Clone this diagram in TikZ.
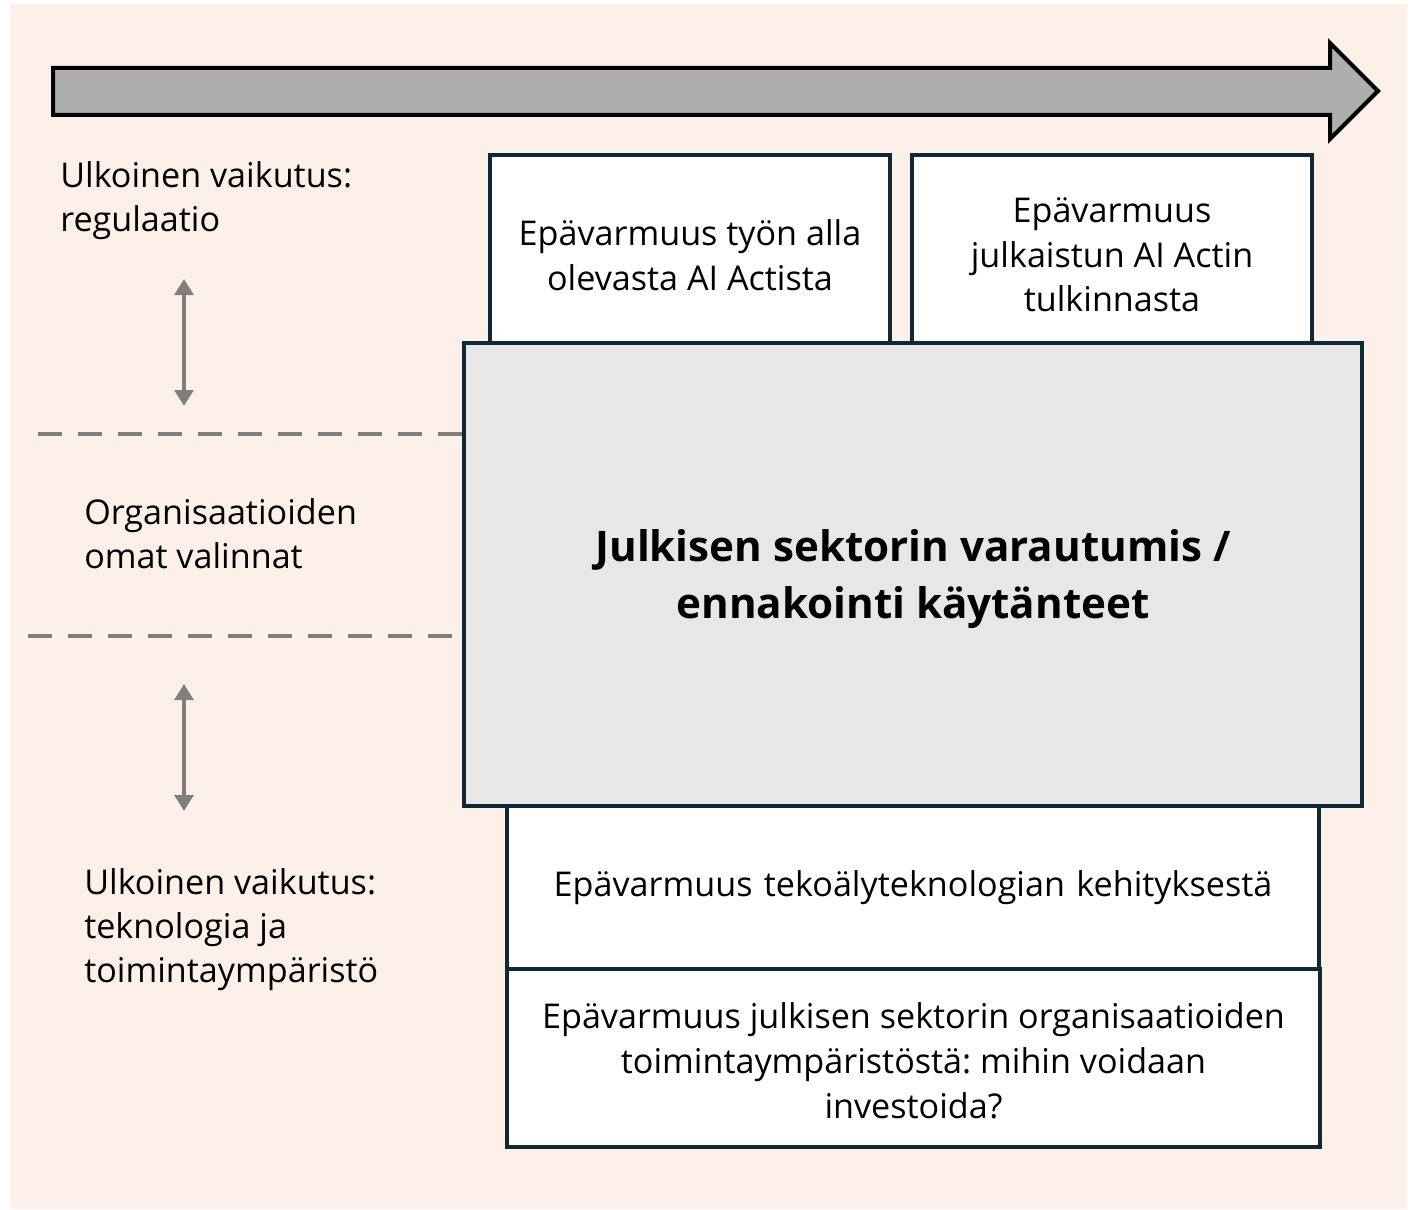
\documentclass[tikz,border=0pt]{standalone}
\usepackage{fontspec}
\setmainfont{Open Sans}
\frenchspacing
\usetikzlibrary{arrows.meta}
\definecolor{peach}{HTML}{FDF0E8}
\definecolor{navy}{HTML}{0F2838}
\definecolor{arrowgray}{HTML}{AEAEAE}
\definecolor{panelgray}{HTML}{E7E7E7}
\definecolor{linegray}{HTML}{7F7F7F}
\tikzset{
  box/.style={draw=navy, line width=3pt, fill=white, inner sep=0pt, align=center,
    font=\fontsize{25.6}{33.5}\selectfont},
  mainbox/.style={box, fill=panelgray, font=\fontsize{31.6}{42.5}\selectfont\bfseries},
  sidelabel/.style={anchor=west, align=left, inner sep=0pt,
    font=\fontsize{25.6}{33}\selectfont},
  divider/.style={draw=linegray, line width=3pt, dash pattern=on 18pt off 12pt},
  updown/.style={draw=linegray, line width=3.5pt,
    {Triangle[width=14pt,length=12pt]}-{Triangle[width=14pt,length=12pt]}},
}
\begin{document}
\begin{tikzpicture}[x=0.75pt,y=-0.75pt]
  \useasboundingbox (0,0) rectangle (1412,1209);
  \fill[peach] (10,4) rectangle (1407,1209);

  % time arrow across the top
  \draw[line width=3pt, fill=arrowgray, line join=miter]
    (53,68) -- (1330,68) -- (1330,43) -- (1378,91) -- (1330,139)
    -- (1330,115) -- (53,115) -- cycle;

  % uncertainty boxes above the panel
  \node[box, minimum width=400*0.75pt, minimum height=188*0.75pt,
        text width=380*0.75pt] (ai1) at (690,249) {};
  \node[align=center, font=\fontsize{25.6}{33.5}\selectfont, inner sep=0pt]
    (ai1txt) at (ai1.center) [yshift=-4.5pt] {Epävarmuus työn alla\\olevasta AI Actista};
  \node[box, minimum width=400*0.75pt, minimum height=188*0.75pt,
        text width=380*0.75pt] (ai2) at (1112,249) {};
  \node[align=center, font=\fontsize{25.6}{33.5}\selectfont, inner sep=0pt]
    (ai2txt) at (ai2.center) [yshift=-4.5pt] {Epävarmuus\\julkaistun AI Actin\\tulkinnasta};

  % uncertainty boxes below the panel
  \node[box, minimum width=812*0.75pt, minimum height=163*0.75pt,
        text width=790*0.75pt] (tech) at (913,887.5)
    {Epävarmuus tekoälyteknologian kehityksestä};
  \node[box, minimum width=813*0.75pt, minimum height=178*0.75pt,
        text width=790*0.75pt] (env) at (913.5,1058) {};
  \node[align=center, font=\fontsize{25.6}{33.5}\selectfont, inner sep=0pt]
    (envtxt) at (env.center) [yshift=-2pt]
    {Epävarmuus julkisen sektorin organisaatioiden\\toimintaympäristöstä: mihin voidaan\\investoida?};

  % central panel
  \node[mainbox, minimum width=898*0.75pt, minimum height=463*0.75pt,
        text width=860*0.75pt] (main) at (913,574.5) {};
  \node[align=center, font=\fontsize{31.6}{42.5}\selectfont\bfseries, inner sep=0pt]
    (maintxt) at (main.center) [yshift=-3.5pt]
    {Julkisen sektorin varautumis /\\ennakointi käytänteet};

  % dashed dividers
  \coordinate (d1) at (38,434);
  \coordinate (d2) at (28,636);
  \draw[divider] (d1) -- (d1 -| main.west);
  \draw[divider] (d2) -- (d2 -| main.west);

  % left-hand labels
  \node[sidelabel] (reg) at (60,201) {Ulkoinen vaikutus:\\regulaatio};
  \node[sidelabel] (org) at (84,534) {Organisaatioiden\\omat valinnat};
  \node[sidelabel] (tek) at (84,930) {Ulkoinen vaikutus:\\teknologia ja\\toimintaympäristö};

  % influence arrows
  \coordinate (a1) at (184,279);
  \coordinate (a2) at (184,406);
  \coordinate (b1) at (184,684);
  \coordinate (b2) at (184,811);
  \draw[updown] (a1) -- (a2);
  \draw[updown] (b1) -- (b2);
\end{tikzpicture}
\end{document}
